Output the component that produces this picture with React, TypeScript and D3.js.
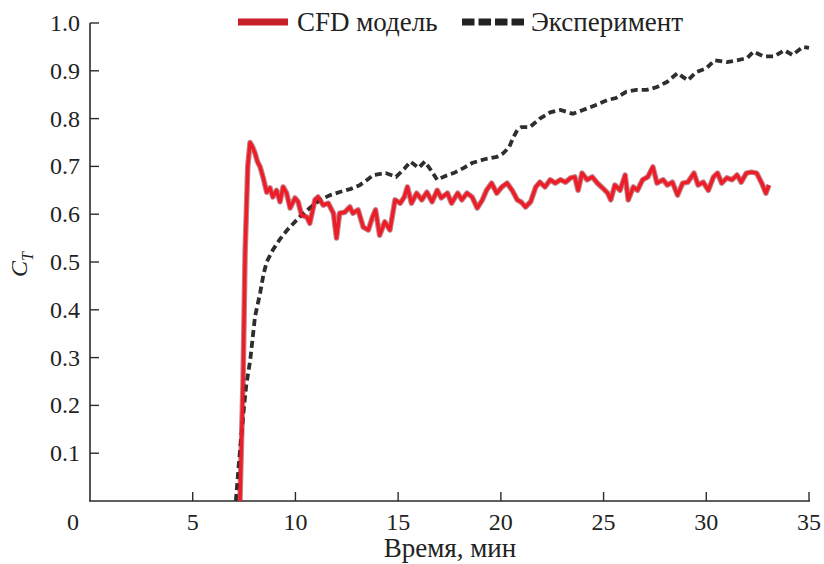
import React from "react";
import * as d3 from "d3";

// CFD model: time (min) and thrust coefficient
const cfdTime = [
  7.3, 7.45, 7.55, 7.68, 7.79, 7.9, 8.03, 8.15, 8.28, 8.42, 8.6, 8.76, 8.9, 9.08, 9.25, 9.4, 9.57, 9.74, 9.98,
  10.13, 10.3, 10.56, 10.7, 10.95, 11.1, 11.35, 11.6, 11.85, 12.0, 12.15, 12.4, 12.65, 12.8, 13.05, 13.3, 13.55,
  13.75, 13.9, 14.1, 14.35, 14.6, 14.85, 15.1, 15.3, 15.45, 15.65, 15.9, 16.15, 16.4, 16.65, 16.9, 17.1, 17.4,
  17.6, 17.9, 18.1, 18.35, 18.6, 18.85, 19.1, 19.3, 19.55, 19.8, 20.05, 20.3, 20.55, 20.8, 21.0, 21.2, 21.45,
  21.7, 21.9, 22.15, 22.4, 22.65, 22.9, 23.15, 23.4, 23.6, 23.76, 23.95, 24.2, 24.45, 24.7, 24.95, 25.2, 25.35,
  25.55, 25.8, 26.05, 26.2, 26.45, 26.65, 26.9, 27.15, 27.4, 27.6, 27.9, 28.1, 28.35, 28.6, 28.85, 29.1, 29.4,
  29.6, 29.85, 30.1, 30.35, 30.55, 30.75, 31.0, 31.25, 31.5, 31.7, 31.95, 32.2, 32.45, 32.7, 32.9, 33.05,
];
const cfdValue = [
  0, 0.25, 0.52, 0.7, 0.75, 0.742, 0.728, 0.71, 0.699, 0.678, 0.646, 0.655, 0.636, 0.65, 0.626, 0.657, 0.644,
  0.613, 0.634, 0.626, 0.598, 0.594, 0.581, 0.63, 0.636, 0.619, 0.623, 0.602, 0.55, 0.602, 0.604, 0.615, 0.602,
  0.609, 0.573, 0.567, 0.594, 0.609, 0.556, 0.584, 0.567, 0.63, 0.623, 0.636, 0.657, 0.623, 0.644, 0.63, 0.646,
  0.626, 0.65, 0.634, 0.644, 0.623, 0.644, 0.63, 0.644, 0.636, 0.613, 0.63, 0.65, 0.665, 0.644, 0.657, 0.665,
  0.65, 0.63, 0.625, 0.615, 0.626, 0.657, 0.667, 0.657, 0.672, 0.665, 0.672, 0.667, 0.676, 0.678, 0.65, 0.686,
  0.672, 0.678, 0.665, 0.655, 0.644, 0.63, 0.661, 0.65, 0.682, 0.63, 0.657, 0.65, 0.672, 0.678, 0.699, 0.665,
  0.672, 0.661, 0.667, 0.64, 0.665, 0.667, 0.686, 0.661, 0.667, 0.65, 0.678, 0.686, 0.665, 0.676, 0.672, 0.682,
  0.667, 0.686, 0.688, 0.686, 0.665, 0.644, 0.661,
];

// Experiment: time (min) and thrust coefficient
const expTime = [
  7.1, 7.25, 7.45, 7.6, 7.8, 8.03, 8.28, 8.45, 8.6, 8.9, 9.25, 9.6, 10.2, 10.7, 11.2, 11.7, 12.2, 12.7, 13.1,
  13.5, 13.8, 14.4, 14.9, 15.3, 15.6, 16.0, 16.3, 16.6, 16.9, 17.3, 17.7, 18.2, 18.6, 19.2, 19.8, 20.1, 20.4,
  20.6, 20.8, 21.0, 21.4, 21.9, 22.4, 22.9, 23.5, 24.0, 24.6, 25.2, 25.6, 26.1, 26.6, 27.1, 27.6, 28.1, 28.6,
  29.1, 29.5, 30.0, 30.4, 31.0, 31.5, 32.0, 32.3, 32.8, 33.3, 33.8, 34.2, 34.7, 35.0,
];
const expValue = [
  0, 0.08, 0.176, 0.24, 0.295, 0.385, 0.435, 0.475, 0.5, 0.525, 0.548, 0.567, 0.594, 0.613, 0.63, 0.64, 0.647,
  0.653, 0.66, 0.672, 0.682, 0.686, 0.678, 0.695, 0.71, 0.697, 0.71, 0.692, 0.672, 0.68, 0.686, 0.697, 0.707,
  0.715, 0.72, 0.727, 0.74, 0.76, 0.776, 0.782, 0.782, 0.8, 0.813, 0.818, 0.81, 0.818, 0.828, 0.839, 0.843,
  0.856, 0.86, 0.86, 0.866, 0.877, 0.895, 0.88, 0.897, 0.905, 0.922, 0.918, 0.922, 0.927, 0.94, 0.93, 0.93,
  0.943, 0.933, 0.95, 0.948,
];

const xTicks = [0, 5, 10, 15, 20, 25, 30, 35];
const yTicks = [0.1, 0.2, 0.3, 0.4, 0.5, 0.6, 0.7, 0.8, 0.9, 1.0];

const seriesNames = ["CFD модель", "Эксперимент"];
const xTitle = "Время, мин";

const W = 824;
const H = 564;
const FONT = "'Liberation Serif', 'Times New Roman', serif";
const AXIS = "#2b2b2b";

export default function App() {
  const x = d3.scaleLinear().domain([0, 35]).range([90, 809]);
  const y = d3.scaleLinear().domain([0, 1]).range([501, 23]);

  const line = d3
    .line<[number, number]>()
    .x((d) => x(d[0]))
    .y((d) => y(d[1]));

  const cfd: [number, number][] = cfdTime.map((t, i) => [t, cfdValue[i]]);
  const exp: [number, number][] = expTime.map((t, i) => [t, expValue[i]]);

  const y0 = y(0);
  const x0 = x(0);

  return (
    <svg
      width={W}
      height={H}
      style={{ position: "absolute", left: 0, top: 0, background: "#fff" }}
      fontFamily={FONT}
    >
      <defs>
        <filter id="soft" x="-5%" y="-5%" width="110%" height="110%">
          <feGaussianBlur stdDeviation="0.6" />
        </filter>
      </defs>

      {/* axes */}
      <line x1={x0 - 1} x2={x(35) + 1} y1={y0} y2={y0} stroke={AXIS} strokeWidth={1.6} />
      <line x1={x0} x2={x0} y1={y0} y2={y(1)} stroke={AXIS} strokeWidth={1.6} />

      {xTicks.map((t) => (
        <g key={"xt" + t}>
          {t > 0 && <line x1={x(t)} x2={x(t)} y1={y0} y2={y0 - 9} stroke={AXIS} strokeWidth={1.4} />}
          <text
            x={t === 0 ? x(t) - 17 : x(t)}
            y={530}
            textAnchor="middle"
            fontSize={24}
            fill="#222"
          >
            {t}
          </text>
        </g>
      ))}

      {yTicks.map((t) => (
        <g key={"yt" + t}>
          <line x1={x0} x2={x0 + 9} y1={y(t)} y2={y(t)} stroke={AXIS} strokeWidth={1.4} />
          <text x={80} y={y(t) + 8} textAnchor="end" fontSize={24} fill="#222">
            {t.toFixed(1)}
          </text>
        </g>
      ))}

      {/* axis titles */}
      <text x={450} y={557} textAnchor="middle" fontSize={27} fill="#222">
        {xTitle}
      </text>
      <text transform="translate(27,277) rotate(-90)" fontSize={24} fontStyle="italic" fill="#222">
        C
        <tspan fontSize={16} dy={6}>
          T
        </tspan>
      </text>

      {/* series */}
      <g filter="url(#soft)">
        <path d={line(exp) ?? ""} fill="none" stroke="#2d2d2d" strokeWidth={3.8} strokeDasharray="7,4" />
        <path d={line(cfd) ?? ""} fill="none" stroke="#8e1b2b" strokeWidth={5.5} strokeOpacity={0.55} strokeLinejoin="round" />
        <path d={line(cfd) ?? ""} fill="none" stroke="#ee1c25" strokeWidth={3.4} strokeLinejoin="round" />
      </g>

      {/* legend */}
      <line x1={238} x2={288} y1={22} y2={22} stroke="#c8202a" strokeWidth={7} />
      <text x={297} y={31} fontSize={27} fill="#222">
        {seriesNames[0]}
      </text>
      <line x1={462} x2={524} y1={22} y2={22} stroke="#222" strokeWidth={7} strokeDasharray="12.5,4" />
      <text x={531} y={31} fontSize={27} fill="#222">
        {seriesNames[1]}
      </text>
    </svg>
  );
}
